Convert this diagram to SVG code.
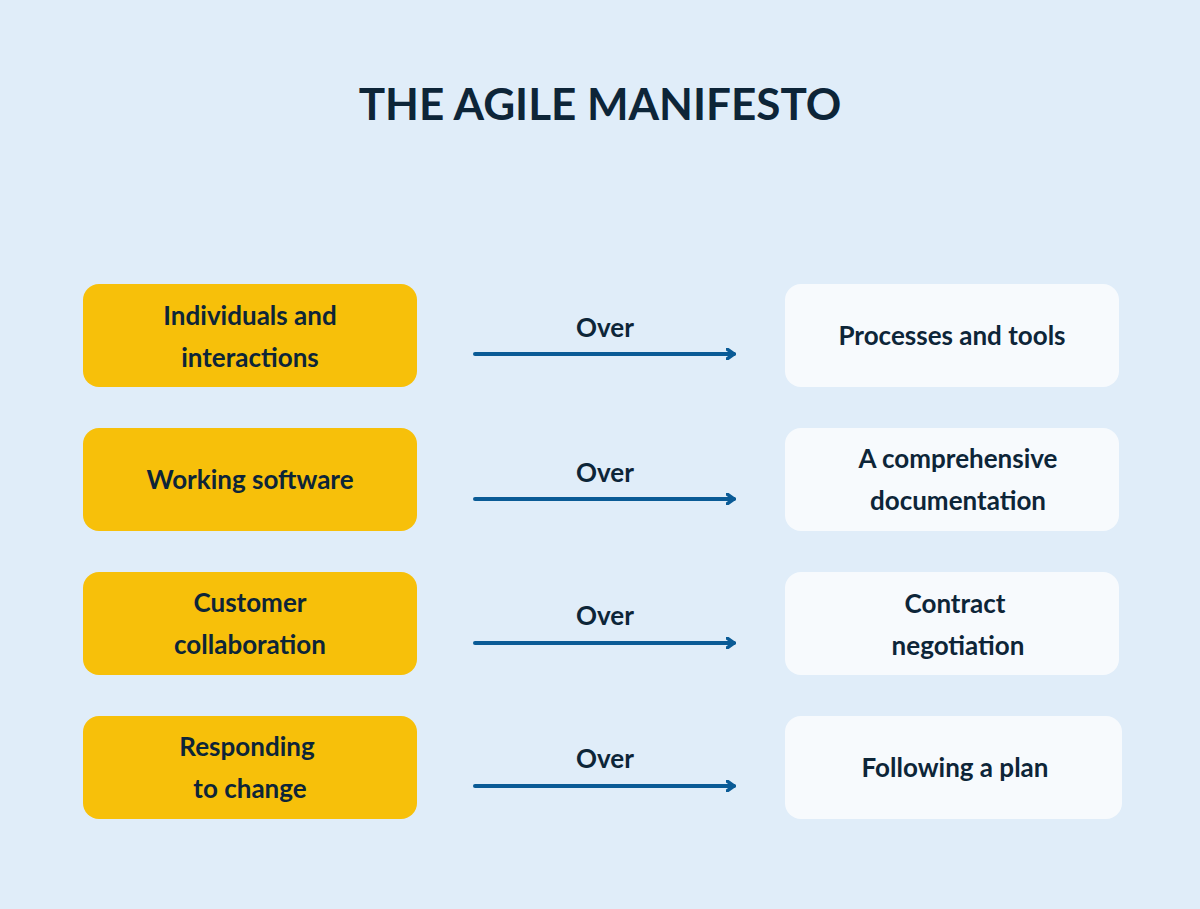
<svg xmlns="http://www.w3.org/2000/svg" width="1200" height="909" viewBox="0 0 1200 909">
<style>
text{font-family:"Lato","Open Sans",sans-serif;font-weight:700;fill:#0d2538;text-anchor:middle}
.t{font-size:26px}
.l{fill:#f7c00a}
.r{fill:#f7fafd}
.a{stroke:#0a5b96;stroke-width:4;stroke-linecap:round;fill:none}
</style>
<defs><marker id="h" markerWidth="10" markerHeight="12" refX="8" refY="6" orient="auto" markerUnits="userSpaceOnUse"><path d="M1,1 L8,6 L1,11" fill="none" stroke="#0a5b96" stroke-width="3.5" stroke-linecap="round"/></marker></defs>
<rect width="1200" height="909" fill="#e0edf9"/>
<text x="600" y="120" style="font-size:44px">THE AGILE MANIFESTO</text>
<g id="l1"><rect class="l" x="83" y="284" width="334" height="103" rx="16"/><text class="t" x="250" y="325">Individuals and</text><text class="t" x="250" y="367">interactions</text></g>
<g id="l2"><rect class="l" x="83" y="428" width="334" height="103" rx="16"/><text class="t" x="250" y="489">Working software</text></g>
<g id="l3"><rect class="l" x="83" y="572" width="334" height="103" rx="16"/><text class="t" x="250" y="612">Customer</text><text class="t" x="250" y="654">collaboration</text></g>
<g id="l4"><rect class="l" x="83" y="716" width="334" height="103" rx="16"/><text class="t" x="247" y="756">Responding</text><text class="t" x="250" y="798">to change</text></g>
<g id="r1"><rect class="r" x="785" y="284" width="334" height="103" rx="16"/><text class="t" x="952" y="345">Processes and tools</text></g>
<g id="r2"><rect class="r" x="785" y="428" width="334" height="103" rx="16"/><text class="t" x="958" y="468">A comprehensive</text><text class="t" x="958" y="510">documentation</text></g>
<g id="r3"><rect class="r" x="785" y="572" width="334" height="103" rx="16"/><text class="t" x="955" y="613">Contract</text><text class="t" x="958" y="655">negotiation</text></g>
<g id="r4"><rect class="r" x="785" y="716" width="337" height="103" rx="16"/><text class="t" x="955" y="777">Following a plan</text></g>
<g id="connectors">
<path class="a" d="M475,354 H734" marker-end="url(#h)"/><text class="t" x="605" y="337">Over</text>
<path class="a" d="M475,499 H734" marker-end="url(#h)"/><text class="t" x="605" y="482">Over</text>
<path class="a" d="M475,643 H734" marker-end="url(#h)"/><text class="t" x="605" y="625">Over</text>
<path class="a" d="M475,786 H734" marker-end="url(#h)"/><text class="t" x="605" y="768">Over</text>
</g>
</svg>
